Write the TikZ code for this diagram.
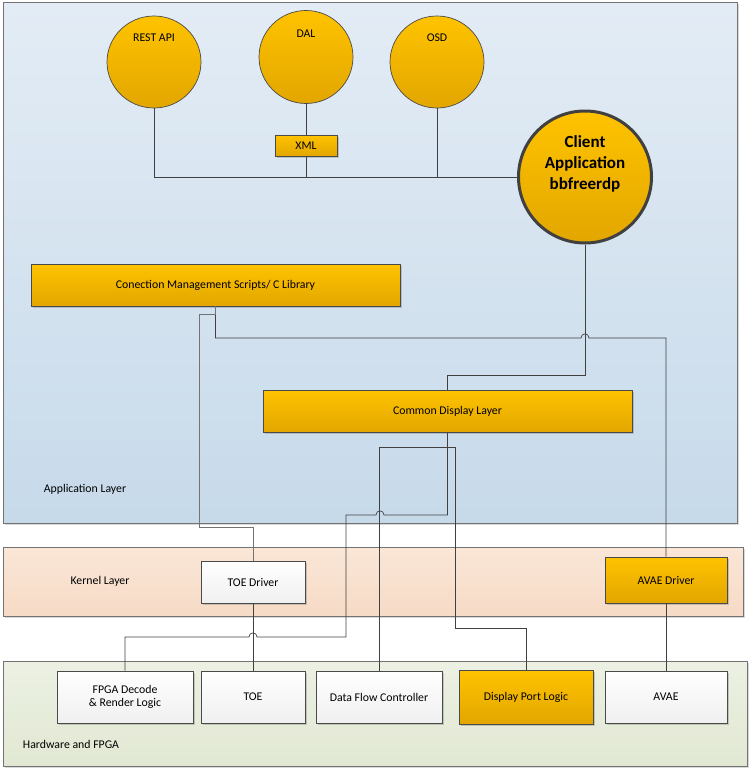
\documentclass[tikz,border=0pt]{standalone}
\usepackage{fontspec}
\setmainfont{Carlito}
\usetikzlibrary{shapes.geometric,shadows}
\definecolor{orTop}{HTML}{FFC300}
\definecolor{orBot}{HTML}{E2A600}
\definecolor{lineC}{HTML}{404040}
\definecolor{bordC}{HTML}{4A4A4A}
\begin{document}
\begin{tikzpicture}[x=1pt,y=-1pt,
  txt/.style={font=\fontsize{11.8}{13.5}\selectfont, align=center},
  layer/.style={draw=black!55, line width=0.8pt,
    drop shadow={shadow xshift=1.5pt, shadow yshift=-1.5pt, opacity=0.25, fill=black!60}},
  obox/.style={rectangle, draw=bordC, line width=0.7pt, top color=orTop, bottom color=orBot,
    inner sep=0pt, txt,
    drop shadow={shadow xshift=1.5pt, shadow yshift=-1.5pt, opacity=0.3, fill=black!60}},
  wbox/.style={rectangle, draw=bordC, line width=0.7pt, top color=white, bottom color=black!6,
    inner sep=0pt, txt,
    drop shadow={shadow xshift=1.5pt, shadow yshift=-1.5pt, opacity=0.3, fill=black!60}},
  oell/.style={ellipse, draw=bordC, line width=0.7pt, top color=orTop, bottom color=orBot,
    inner sep=0pt},
  conn/.style={draw=lineC, line width=0.7pt},
]
\useasboundingbox (0,0) rectangle (753,771);
% layers
\path[layer, top color={rgb,255:red,227;green,236;blue,245}, bottom color={rgb,255:red,199;green,218;blue,234}] (3,2) rectangle (737,523);
\path[layer, top color={rgb,255:red,250;green,230;blue,215}, bottom color={rgb,255:red,246;green,219;blue,198}] (3,547) rectangle (743,616);
\path[layer, top color={rgb,255:red,236;green,241;blue,227}, bottom color={rgb,255:red,225;green,232;blue,210}] (3,661) rectangle (747,766);
\node[txt] (applbl) at (85,489) {Application Layer};
\node[txt] (kerlbl) at (100,581) {Kernel Layer};
\node[txt] (hwlbl) at (71,744) {Hardware and FPGA};

% application nodes
\node[oell, minimum width=94, minimum height=92] (rest) at (154,62) {};
\node[txt] (restt) at (154,38) {REST API};
\node[oell, minimum width=94, minimum height=93] (dal) at (306,57) {};
\node[txt] (dalt) at (306,34) {DAL};
\node[oell, minimum width=94, minimum height=92] (osd) at (437,62) {};
\node[txt] (osdt) at (437,38) {OSD};
\node[obox, minimum width=62, minimum height=21] (xml) at (306,145.5) {XML};
\node[oell, draw=black!75, line width=3pt, minimum width=133, minimum height=132] (client) at (585,177) {};
\node[font=\fontsize{17}{21}\selectfont\bfseries, align=center] (clientt) at (585,164)
  {Client\\Application\\bbfreerdp};
\node[obox, minimum width=369, minimum height=42] (cms) at (215.5,285) {Conection Management Scripts/ C Library};
\node[obox, minimum width=369, minimum height=42] (cdl) at (447.5,411) {Common Display Layer};

% kernel nodes
\node[wbox, minimum width=104, minimum height=42] (toed) at (253,582) {TOE Driver};
\node[obox, minimum width=122, minimum height=46] (avaed) at (666,580) {AVAE Driver};

% hardware nodes
\node[wbox, minimum width=136, minimum height=52] (fpga) at (125,697) {FPGA Decode\\\& Render Logic};
\node[wbox, minimum width=104, minimum height=52] (toe) at (253,697) {TOE};
\node[wbox, minimum width=126, minimum height=52] (dfc) at (379,697) {Data Flow Controller};
\node[obox, minimum width=134, minimum height=54] (dpl) at (526,697) {Display Port Logic};
\node[wbox, minimum width=122, minimum height=52] (avae) at (666,697) {AVAE};

% top bus
\draw[conn] (rest.south) |- (client.west);
\draw[conn] (dal.south) -- (xml.north);
\draw[conn] (xml.south) -- (xml.south |- client.west);
\draw[conn] (osd.south) -- (osd.south |- client.west);

% client to common display layer
\draw[conn] (client.south) -- (585,375) -| (cdl.north);

% connection management to AVAE driver (hop over client line)
\draw[conn] (cms.south) -- (215.5,338) -- (581,338)
  .. controls (581,332.5) and (589,332.5) .. (589,338) -| (avaed.north);
% connection management to TOE driver
\draw[conn, draw=black!55] (cms.south) -- (215.5,314) -- (199,314) -- (199,527) -| (toed.north);

% common display layer to FPGA decode (hops)
\draw[conn] (cdl.south) -- (447.5,515) -- (384,515)
  .. controls (384,509.5) and (376,509.5) .. (376,515) -- (346,515) -- (346,637)
  -- (257,637) .. controls (257,631.5) and (249,631.5) .. (249,637) -| (fpga.north);

% data flow controller to display port logic
\draw[conn] (dfc.north) -- (379,447) -- (455,447) -- (455,628) -| (dpl.north);

% kernel to hardware
\draw[conn] (toed.south) -- (toe.north);
\draw[conn] (avaed.south) -- (avae.north);
\end{tikzpicture}
\end{document}
